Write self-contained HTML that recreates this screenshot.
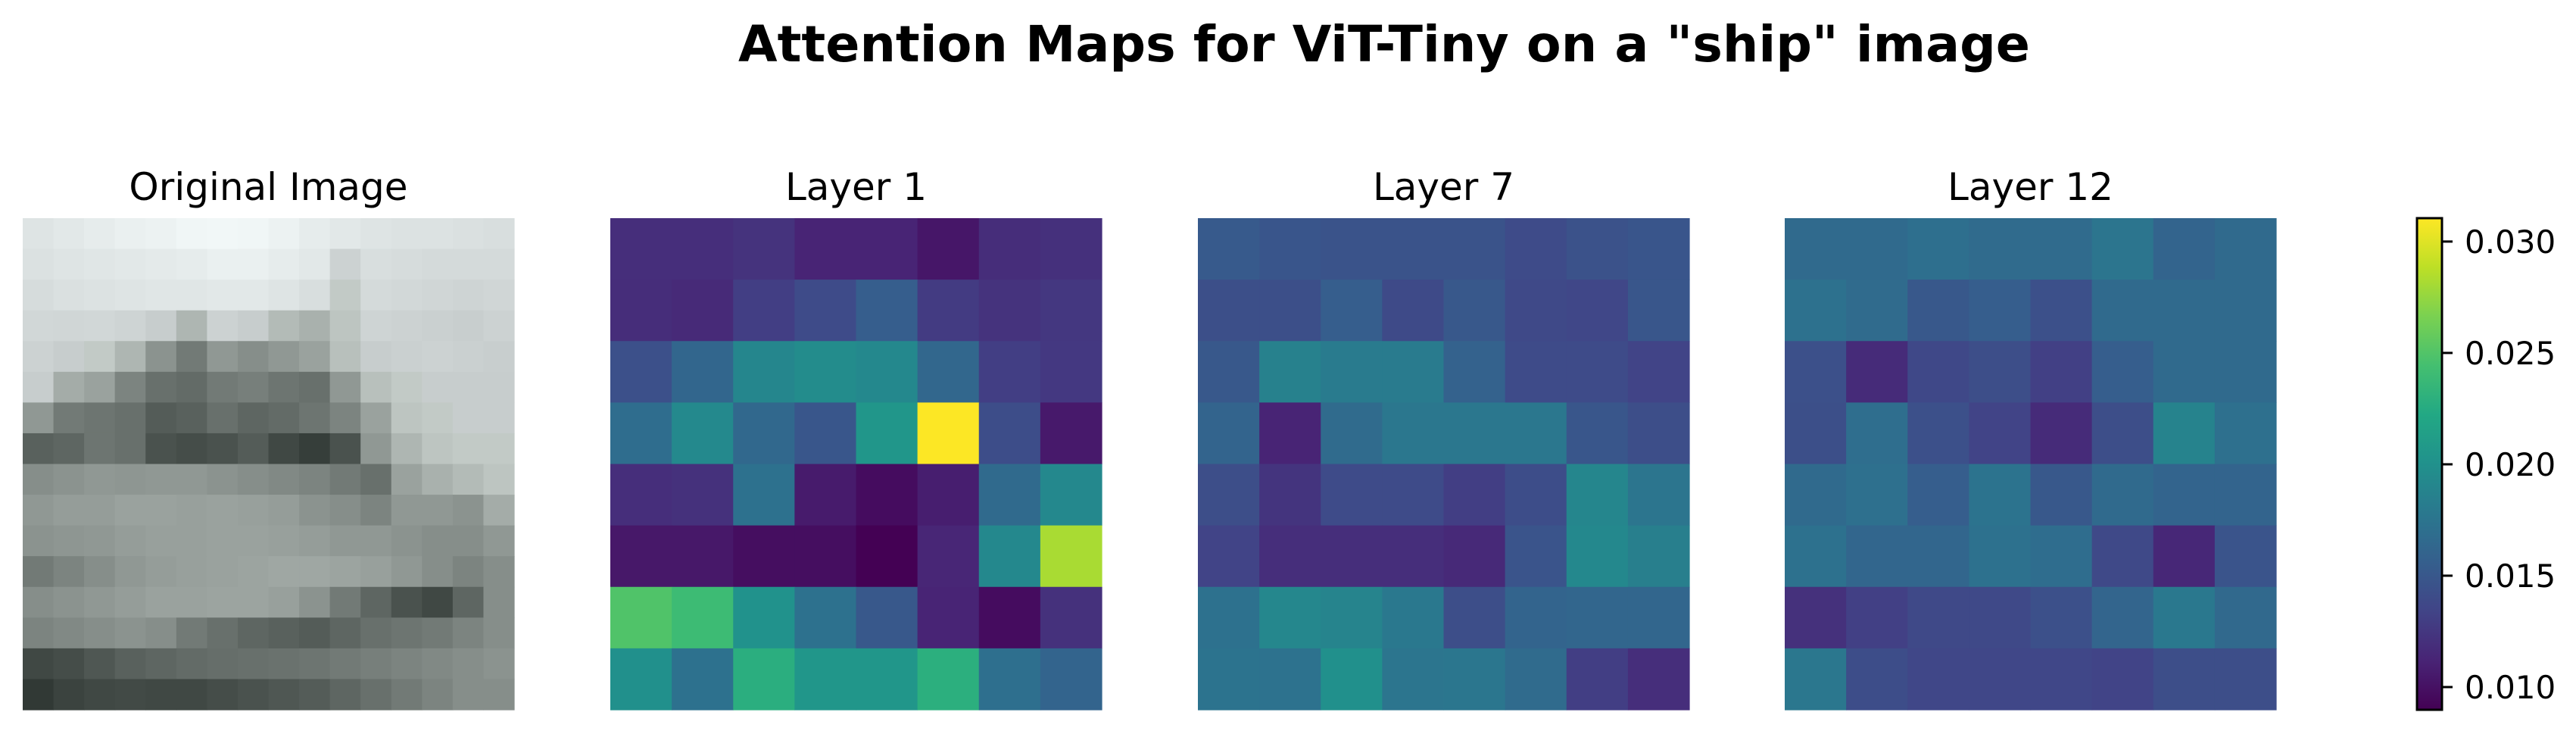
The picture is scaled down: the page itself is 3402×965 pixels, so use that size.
<!DOCTYPE html>
<html><head><meta charset="utf-8">
<style>
html,body{margin:0;padding:0;background:#fff;}
svg{display:block;}
text{font-family:"DejaVu Sans","Liberation Sans",sans-serif;fill:#000;}
</style></head>
<body>
<svg id="fig" width="3402" height="965" viewBox="0 0 3402 965" xmlns="http://www.w3.org/2000/svg">
<rect width="3402" height="965" fill="#fff"/>
<text x="1828" y="81" font-size="66" font-weight="bold" text-anchor="middle" textLength="1706" lengthAdjust="spacingAndGlyphs">Attention Maps for ViT-Tiny on a "ship" image</text>
</svg>
<script>
const panelTitles = ["Original Image", "Layer 1", "Layer 7", "Layer 12"];
const layer1 = [
[0.0119,0.0119,0.0122,0.0112,0.0112,0.0103,0.0118,0.0120],
[0.0118,0.0116,0.0130,0.0140,0.0155,0.0128,0.0122,0.0125],
[0.0144,0.0162,0.0190,0.0196,0.0192,0.0163,0.0130,0.0126],
[0.0168,0.0193,0.0164,0.0149,0.0205,0.0310,0.0141,0.0105],
[0.0119,0.0121,0.0172,0.0106,0.0097,0.0108,0.0166,0.0192],
[0.0104,0.0104,0.0098,0.0098,0.0090,0.0113,0.0192,0.0282],
[0.0249,0.0240,0.0201,0.0172,0.0150,0.0112,0.0097,0.0121],
[0.0199,0.0172,0.0228,0.0205,0.0205,0.0229,0.0170,0.0160]];
const layer7 = [
[0.0152,0.0148,0.0146,0.0146,0.0146,0.0140,0.0145,0.0148],
[0.0143,0.0143,0.0155,0.0139,0.0150,0.0138,0.0136,0.0149],
[0.0150,0.0186,0.0181,0.0181,0.0159,0.0140,0.0140,0.0134],
[0.0160,0.0112,0.0167,0.0177,0.0177,0.0177,0.0149,0.0142],
[0.0142,0.0123,0.0140,0.0140,0.0130,0.0141,0.0190,0.0175],
[0.0134,0.0119,0.0119,0.0119,0.0115,0.0147,0.0192,0.0184],
[0.0172,0.0191,0.0189,0.0178,0.0142,0.0160,0.0162,0.0162],
[0.0174,0.0173,0.0199,0.0175,0.0176,0.0167,0.0130,0.0119]];
const layer12 = [
[0.0166,0.0166,0.0170,0.0167,0.0167,0.0175,0.0160,0.0166],
[0.0172,0.0167,0.0150,0.0155,0.0144,0.0166,0.0166,0.0166],
[0.0144,0.0117,0.0137,0.0142,0.0131,0.0155,0.0166,0.0166],
[0.0143,0.0169,0.0144,0.0134,0.0117,0.0142,0.0188,0.0171],
[0.0166,0.0171,0.0155,0.0174,0.0150,0.0166,0.0160,0.0160],
[0.0172,0.0162,0.0162,0.0172,0.0168,0.0138,0.0114,0.0147],
[0.0121,0.0131,0.0138,0.0138,0.0144,0.0161,0.0178,0.0165],
[0.0177,0.0141,0.0136,0.0136,0.0136,0.0134,0.0142,0.0142]];
const imageGray = [
[228,232,236,240,242,246,247,246,242,236,232,228,226,226,224,222],
[225,228,230,232,234,236,240,240,236,232,210,222,220,218,218,218],
[220,224,226,228,230,230,232,232,228,222,200,218,216,214,212,214],
[215,214,215,212,205,180,210,205,185,175,195,212,210,208,206,210],
[210,205,200,180,145,120,150,140,150,160,190,205,208,210,208,206],
[205,170,160,130,110,105,120,125,115,110,150,190,200,205,205,205],
[150,120,115,110,90,95,110,100,105,115,130,160,195,200,205,205],
[95,100,115,110,80,75,80,90,70,60,80,150,180,195,200,200],
[140,145,150,148,150,150,145,140,135,130,120,110,160,175,185,195],
[150,155,155,160,160,158,160,158,155,145,140,130,150,150,145,170],
[145,148,150,155,158,158,160,160,158,155,150,150,145,140,140,150],
[120,130,140,150,155,158,160,162,165,165,162,158,150,140,130,140],
[140,145,150,155,160,160,162,162,158,145,120,100,80,70,100,140],
[130,135,140,145,140,120,110,100,95,90,100,110,115,120,130,140],
[70,75,85,95,100,105,108,110,112,115,120,125,130,135,140,145],
[55,65,70,72,70,70,75,80,85,90,100,110,120,130,140,140]];
const cbTicks = [0.010, 0.015, 0.020, 0.025, 0.030];
const cbTickLabels = ["0.010", "0.015", "0.020", "0.025", "0.030"];
const vmin = 0.00898, vmax = 0.03105;

const NS = "http://www.w3.org/2000/svg";
const svg = document.getElementById('fig');
const VIR = ["#440154","#482475","#414487","#355f8d","#2a788e","#21918c","#22a884","#44bf70","#7ad151","#bddf26","#fde725"];
function hex(h){return [parseInt(h.substr(1,2),16),parseInt(h.substr(3,2),16),parseInt(h.substr(5,2),16)];}
function viridis(t){
  t=Math.max(0,Math.min(1,t));
  const p=t*10, i=Math.min(9,Math.floor(p)), f=p-i;
  const a=hex(VIR[i]), b=hex(VIR[i+1]);
  return "rgb("+a.map((v,k)=>Math.round(v+(b[k]-v)*f)).join(",")+")";
}
function mk(tag, attrs){const e=document.createElementNS(NS,tag);for(const k in attrs)e.setAttribute(k,attrs[k]);svg.appendChild(e);return e;}

const panelX = [30, 806, 1582, 2357];
const panelY = 288, panelS = 649;

panelTitles.forEach((t,i)=>{
  const e=mk('text',{x:panelX[i]+panelS/2,y:264,'font-size':50,'text-anchor':'middle'});
  e.textContent=t;
  
  
});

// original image
{
  const n=imageGray.length, c=panelS/n;
  imageGray.forEach((row,r)=>row.forEach((g,k)=>{
    const light=g>200;
    const col= light ? `rgb(${g-6},${g},${g})` : `rgb(${g-6},${g+2},${g-2})`;
    const e=mk('rect',{x:panelX[0]+k*c,y:panelY+r*c,width:c+0.6,height:c+0.6,fill:col});
    
    
  }));
}
// heatmaps
[layer1,layer7,layer12].forEach((m,idx)=>{
  const n=m.length, c=panelS/n, x0=panelX[idx+1];
  m.forEach((row,r)=>row.forEach((v,k)=>{
    const e=mk('rect',{x:x0+k*c,y:panelY+r*c,width:c+0.6,height:c+0.6,fill:viridis((v-vmin)/(vmax-vmin))});
    
    
  }));
});
// colorbar
{
  const cx=3192, cw=33, cy=panelY, ch=panelS;
  const defs=mk('defs',{});
  const lg=document.createElementNS(NS,'linearGradient');
  lg.setAttribute('id','vg');lg.setAttribute('x1','0');lg.setAttribute('y1','1');lg.setAttribute('x2','0');lg.setAttribute('y2','0');
  VIR.forEach((c,i)=>{const s=document.createElementNS(NS,'stop');s.setAttribute('offset',i/10);s.setAttribute('stop-color',c);lg.appendChild(s);});
  defs.appendChild(lg);
  const bar=mk('rect',{x:cx,y:cy,width:cw,height:ch,fill:'url(#vg)',stroke:'#000','stroke-width':3});
  
  
  const yv=v=>cy+ch-(v-vmin)/(vmax-vmin)*ch;
  cbTicks.forEach((v,i)=>{
    const y=yv(v);
    const tk=mk('line',{x1:cx+cw,x2:cx+cw+14,y1:y,y2:y,stroke:'#000','stroke-width':3});
    
    
    const tl=mk('text',{x:3255,y:y+15,'font-size':42});
    tl.textContent=cbTickLabels[i];
    
    
  });
}
</script>
</body></html>
